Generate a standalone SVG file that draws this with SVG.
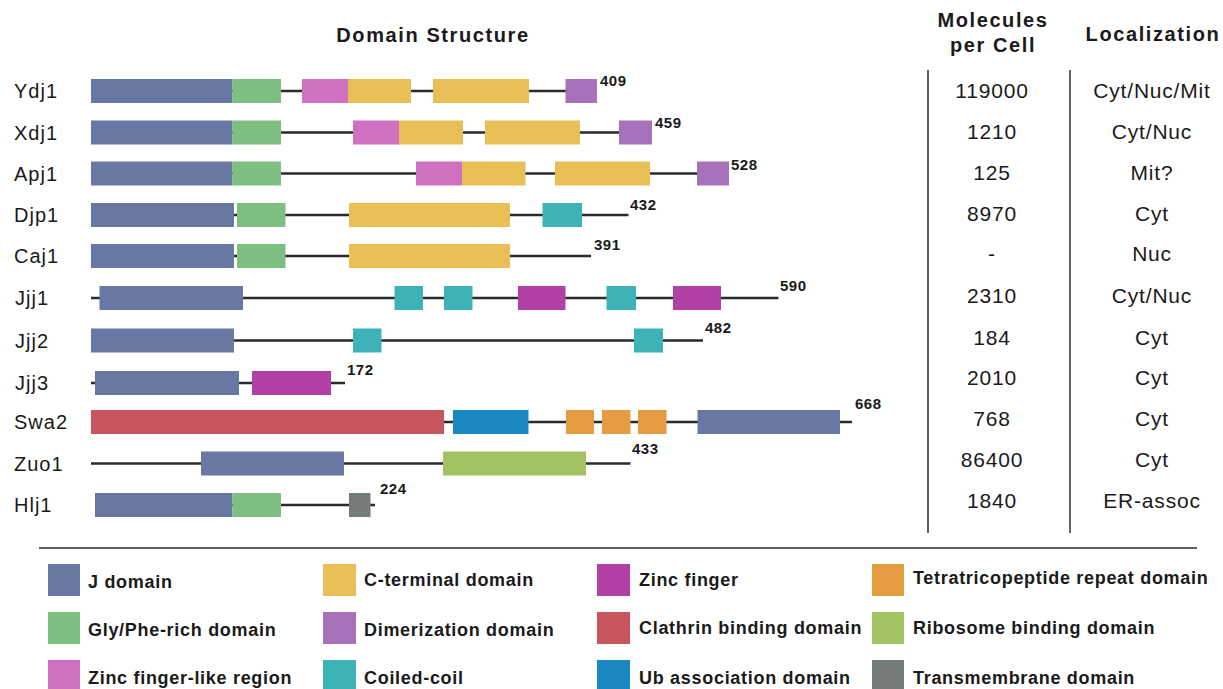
<svg xmlns="http://www.w3.org/2000/svg" width="1223" height="689" viewBox="0 0 1223 689">
<style>
text{font-family:"Liberation Sans",Arial,sans-serif;fill:#1a1a1a}
.hd{font-size:20px;font-weight:bold;letter-spacing:1.6px;text-anchor:middle}
.nm{font-size:20px;letter-spacing:1px}
.val{font-size:21px;letter-spacing:0.8px;text-anchor:middle}
.len{font-size:15px;font-weight:bold;letter-spacing:0.5px}
.lg{font-size:18px;font-weight:bold;letter-spacing:0.7px}
.bb{stroke:#2a2a2a;stroke-width:2.5;fill:none}
.sep{stroke:#606060;stroke-width:2;fill:none}
.J{fill:#6878a3}.G{fill:#7dbf80}.ZL{fill:#d070c0}.C{fill:#e8bf55}.D{fill:#a872ba}.CC{fill:#3db3b8}
.Z{fill:#b040a3}.CL{fill:#c9565f}.UB{fill:#1a89c2}.T{fill:#e59c40}.R{fill:#a3c262}.TM{fill:#757a7b}
</style>
<rect width="1223" height="689" fill="#ffffff"/>
<g id="headers">
<text class="hd" x="433" y="42">Domain Structure</text>
<text class="hd" x="993" y="27">Molecules</text>
<text class="hd" x="993" y="52">per Cell</text>
<text class="hd" x="1153" y="41">Localization</text>
</g>
<g id="table-lines">
<line class="sep" x1="928" y1="70" x2="928" y2="533"/>
<line class="sep" x1="1070" y1="70" x2="1070" y2="533"/>
<line class="sep" x1="39" y1="548" x2="1197" y2="548"/>
</g>
<g id="connectors"></g>

<g id="row-Ydj1">
<text class="nm" x="14" y="98">Ydj1</text>
<line class="bb" x1="91" y1="91" x2="597" y2="91"/>
<rect class="J" x="91" y="79" width="141.5" height="24"/>
<rect class="G" x="232.5" y="79" width="48.5" height="24"/>
<rect class="ZL" x="302" y="79" width="46" height="24"/>
<rect class="C" x="348" y="79" width="63" height="24"/>
<rect class="C" x="433" y="79" width="96" height="24"/>
<rect class="D" x="565.5" y="79" width="31.5" height="24"/>
<text class="len" x="600" y="86">409</text>
<text class="val" x="992" y="98">119000</text>
<text class="val" x="1152" y="98">Cyt/Nuc/Mit</text>
</g>

<g id="row-Xdj1">
<text class="nm" x="14" y="139.5">Xdj1</text>
<line class="bb" x1="91" y1="132.5" x2="652" y2="132.5"/>
<rect class="J" x="91" y="120.5" width="141.5" height="24"/>
<rect class="G" x="232.5" y="120.5" width="48.5" height="24"/>
<rect class="ZL" x="353" y="120.5" width="46" height="24"/>
<rect class="C" x="399" y="120.5" width="64" height="24"/>
<rect class="C" x="485" y="120.5" width="95" height="24"/>
<rect class="D" x="619" y="120.5" width="33" height="24"/>
<text class="len" x="655" y="128">459</text>
<text class="val" x="992" y="139">1210</text>
<text class="val" x="1152" y="139">Cyt/Nuc</text>
</g>

<g id="row-Apj1">
<text class="nm" x="14" y="180.5">Apj1</text>
<line class="bb" x1="91" y1="173.5" x2="729" y2="173.5"/>
<rect class="J" x="91" y="161.5" width="141.5" height="24"/>
<rect class="G" x="232.5" y="161.5" width="48.5" height="24"/>
<rect class="ZL" x="416" y="161.5" width="46" height="24"/>
<rect class="C" x="462" y="161.5" width="63.5" height="24"/>
<rect class="C" x="555" y="161.5" width="95" height="24"/>
<rect class="D" x="697" y="161.5" width="32" height="24"/>
<text class="len" x="731" y="170">528</text>
<text class="val" x="992" y="180">125</text>
<text class="val" x="1152" y="180">Mit?</text>
</g>

<g id="row-Djp1">
<text class="nm" x="14" y="222">Djp1</text>
<line class="bb" x1="91" y1="215" x2="628.5" y2="215"/>
<rect class="J" x="91" y="203" width="143" height="24"/>
<rect class="G" x="237" y="203" width="48.5" height="24"/>
<rect class="C" x="349" y="203" width="161" height="24"/>
<rect class="CC" x="542.5" y="203" width="39.5" height="24"/>
<text class="len" x="630" y="210">432</text>
<text class="val" x="992" y="221">8970</text>
<text class="val" x="1152" y="221">Cyt</text>
</g>

<g id="row-Caj1">
<text class="nm" x="14" y="263">Caj1</text>
<line class="bb" x1="91" y1="256" x2="591" y2="256"/>
<rect class="J" x="91" y="244" width="143" height="24"/>
<rect class="G" x="237" y="244" width="48.5" height="24"/>
<rect class="C" x="349" y="244" width="161" height="24"/>
<text class="len" x="594" y="250">391</text>
<text class="val" x="992" y="261">-</text>
<text class="val" x="1152" y="261">Nuc</text>
</g>

<g id="row-Jjj1">
<text class="nm" x="15" y="305">Jjj1</text>
<line class="bb" x1="91" y1="298" x2="778.5" y2="298"/>
<rect class="J" x="99.5" y="286" width="143.5" height="24"/>
<rect class="CC" x="394.5" y="286" width="28.5" height="24"/>
<rect class="CC" x="444" y="286" width="28.5" height="24"/>
<rect class="Z" x="518" y="286" width="47.5" height="24"/>
<rect class="CC" x="606.5" y="286" width="29.5" height="24"/>
<rect class="Z" x="673" y="286" width="48" height="24"/>
<text class="len" x="780" y="291">590</text>
<text class="val" x="992" y="303">2310</text>
<text class="val" x="1152" y="303">Cyt/Nuc</text>
</g>

<g id="row-Jjj2">
<text class="nm" x="15" y="347.5">Jjj2</text>
<line class="bb" x1="91" y1="340.5" x2="703" y2="340.5"/>
<rect class="J" x="91" y="328.5" width="143" height="24"/>
<rect class="CC" x="353" y="328.5" width="28.5" height="24"/>
<rect class="CC" x="634" y="328.5" width="29" height="24"/>
<text class="len" x="705" y="333">482</text>
<text class="val" x="992" y="345">184</text>
<text class="val" x="1152" y="345">Cyt</text>
</g>

<g id="row-Jjj3">
<text class="nm" x="15" y="390">Jjj3</text>
<line class="bb" x1="91" y1="383" x2="345" y2="383"/>
<rect class="J" x="95" y="371" width="144" height="24"/>
<rect class="Z" x="252" y="371" width="79" height="24"/>
<text class="len" x="347" y="375">172</text>
<text class="val" x="992" y="385">2010</text>
<text class="val" x="1152" y="385">Cyt</text>
</g>

<g id="row-Swa2">
<text class="nm" x="14" y="429">Swa2</text>
<line class="bb" x1="91" y1="422" x2="852" y2="422"/>
<rect class="CL" x="91" y="410" width="353" height="24"/>
<rect class="UB" x="453" y="410" width="75.5" height="24"/>
<rect class="T" x="566" y="410" width="28" height="24"/>
<rect class="T" x="602" y="410" width="28.5" height="24"/>
<rect class="T" x="638" y="410" width="28.5" height="24"/>
<rect class="J" x="697.5" y="410" width="142.5" height="24"/>
<text class="len" x="855" y="409">668</text>
<text class="val" x="992" y="426">768</text>
<text class="val" x="1152" y="426">Cyt</text>
</g>

<g id="row-Zuo1">
<text class="nm" x="14" y="470.5">Zuo1</text>
<line class="bb" x1="91" y1="463.5" x2="630.5" y2="463.5"/>
<rect class="J" x="201" y="451.5" width="143" height="24"/>
<rect class="R" x="443" y="451.5" width="143" height="24"/>
<text class="len" x="632" y="454">433</text>
<text class="val" x="992" y="467">86400</text>
<text class="val" x="1152" y="467">Cyt</text>
</g>

<g id="row-Hlj1">
<text class="nm" x="14" y="512">Hlj1</text>
<line class="bb" x1="95" y1="505" x2="375" y2="505"/>
<rect class="J" x="95" y="493" width="137.5" height="24"/>
<rect class="G" x="232.5" y="493" width="48.5" height="24"/>
<rect class="TM" x="349" y="493" width="21.5" height="24"/>
<text class="len" x="380" y="494">224</text>
<text class="val" x="992" y="508">1840</text>
<text class="val" x="1152" y="508">ER-assoc</text>
</g>

<g id="legend">
<g id="lg-J"><rect class="J" x="48" y="564" width="32" height="32"/><text class="lg" x="88" y="588">J domain</text></g>
<g id="lg-G"><rect class="G" x="48" y="612" width="32" height="32"/><text class="lg" x="88" y="636">Gly/Phe-rich domain</text></g>
<g id="lg-ZL"><rect class="ZL" x="48" y="660" width="32" height="32"/><text class="lg" x="88" y="684">Zinc finger-like region</text></g>
<g id="lg-C"><rect class="C" x="323" y="564" width="33" height="32"/><text class="lg" x="364" y="586">C-terminal domain</text></g>
<g id="lg-D"><rect class="D" x="323" y="612" width="33" height="32"/><text class="lg" x="364" y="636">Dimerization domain</text></g>
<g id="lg-CC"><rect class="CC" x="323" y="660" width="33" height="32"/><text class="lg" x="364" y="684">Coiled-coil</text></g>
<g id="lg-Z"><rect class="Z" x="597" y="564" width="33" height="32"/><text class="lg" x="639" y="586">Zinc finger</text></g>
<g id="lg-CL"><rect class="CL" x="597" y="612" width="33" height="32"/><text class="lg" x="639" y="634">Clathrin binding domain</text></g>
<g id="lg-UB"><rect class="UB" x="597" y="660" width="33" height="32"/><text class="lg" x="639" y="684">Ub association domain</text></g>
<g id="lg-T"><rect class="T" x="872" y="564" width="32" height="32"/><text class="lg" x="913" y="584">Tetratricopeptide repeat domain</text></g>
<g id="lg-R"><rect class="R" x="872" y="612" width="32" height="32"/><text class="lg" x="913" y="634">Ribosome binding domain</text></g>
<g id="lg-TM"><rect class="TM" x="872" y="660" width="32" height="32"/><text class="lg" x="913" y="684">Transmembrane domain</text></g>
</g>
</svg>
